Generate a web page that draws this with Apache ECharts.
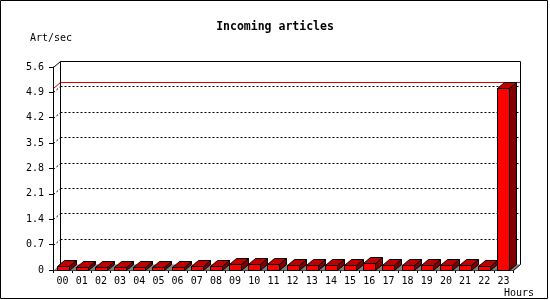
<!DOCTYPE html>
<html>
<head>
<meta charset="utf-8">
<script src="https://cdn.jsdelivr.net/npm/echarts@6/dist/echarts.min.js"></script>
<style>
html,body{margin:0;padding:0;background:#fff;}
#chart{width:550px;height:300px;}
</style>
</head>
<body>
<div id="chart"></div>
<script>
const hours = ['00','01','02','03','04','05','06','07','08','09','10','11','12','13','14','15','16','17','18','19','20','21','22','23'];
const articlesPerSec = [0.12,0.09,0.09,0.08,0.09,0.09,0.09,0.12,0.12,0.16,0.16,0.16,0.15,0.14,0.14,0.14,0.19,0.15,0.14,0.14,0.14,0.14,0.10,5.02];
const yTicks = [0,0.7,1.4,2.1,2.8,3.5,4.2,4.9,5.6];

const DX = 7, DY = -6;
const FONT = 'DejaVu Sans Mono';
const maxVal = Math.max.apply(null, articlesPerSec);

const chart = echarts.init(document.getElementById('chart'), null, {renderer:'canvas'});

function wallRender(params, api) {
  const cs = params.coordSys;
  const x0 = Math.round(cs.x) + 0.5, x1 = Math.round(cs.x + cs.width) + 0.5;
  const yb = Math.round(api.coord([0, 0])[1]) + 0.5;
  const yt = Math.round(api.coord([0, yTicks[yTicks.length - 1]])[1]) + 0.5;
  const ch = [];
  ch.push({type:'polygon', shape:{points:[[x0,yb],[x0+DX,yb+DY],[x1+DX,yb+DY],[x1,yb]]}, style:{fill:'#808080', stroke:null}});
  yTicks.forEach(function (v) {
    if (v === 0) return;
    const y = Math.round(api.coord([0, v])[1]) + 0.5;
    const solid = (v === yTicks[yTicks.length - 1]);
    const st = solid ? {stroke:'#000', lineWidth:1} : {stroke:'#000', lineWidth:1, lineDash:[2,2]};
    ch.push({type:'line', shape:{x1:x0+DX, y1:y+DY, x2:x1+DX, y2:y+DY}, style:st});
    ch.push({type:'line', shape:{x1:x0, y1:y, x2:x0+DX, y2:y+DY}, style:st});
  });
  const ym = Math.round(api.coord([0, maxVal])[1]) + 0.5;
  ch.push({type:'line', shape:{x1:x0+DX, y1:ym+DY, x2:x1+DX, y2:ym+DY}, style:{stroke:'#e00000', lineWidth:1}});
  ch.push({type:'line', shape:{x1:x0, y1:ym, x2:x0+DX, y2:ym+DY}, style:{stroke:'#e00000', lineWidth:1}});
  ch.push({type:'line', shape:{x1:x0+DX, y1:yt+DY, x2:x0+DX, y2:yb+DY}, style:{stroke:'#000', lineWidth:1}});
  ch.push({type:'line', shape:{x1:x1+DX, y1:yt+DY, x2:x1+DX, y2:yb+DY}, style:{stroke:'#000', lineWidth:1}});
  ch.push({type:'line', shape:{x1:x1, y1:yb, x2:x1+DX, y2:yb+DY}, style:{stroke:'#000', lineWidth:1}});
  return {type:'group', children:ch};
}

function barRender(params, api) {
  const idx = api.value(0), val = api.value(1);
  const p0 = api.coord([idx, 0]);
  const p1 = api.coord([idx, val]);
  const bw = Math.round(api.size([1, 0])[0] * 0.62);
  const xl = Math.round(p0[0] - bw / 2) + 0.5, xr = xl + bw;
  const yb = Math.round(p0[1]) + 0.5, yt = Math.round(p1[1]) + 0.5;
  const st = {stroke:'#000', lineWidth:1};
  return {type:'group', children:[
    {type:'polygon', shape:{points:[[xr,yt],[xr+DX,yt+DY],[xr+DX,yb+DY],[xr,yb]]}, style:Object.assign({fill:'#800000'}, st)},
    {type:'polygon', shape:{points:[[xl,yt],[xl+DX,yt+DY],[xr+DX,yt+DY],[xr,yt]]}, style:Object.assign({fill:'#c00000'}, st)},
    {type:'rect', shape:{x:xl, y:yt, width:bw, height:yb-yt}, style:Object.assign({fill:'#ff0000'}, st)}
  ]};
}

chart.setOption({
  animation:false,
  backgroundColor:'#fff',
  title:[
    {text:'Incoming articles', left:'center', top:21, padding:0, textStyle:{fontFamily:FONT, fontWeight:'bold', fontSize:11.5, color:'#000'}},
    {text:'Art/sec', left:30, top:33, padding:0, textStyle:{fontFamily:FONT, fontWeight:'normal', fontSize:10, color:'#000'}},
    {text:'Hours', left:504, top:288, padding:0, textStyle:{fontFamily:FONT, fontWeight:'normal', fontSize:10, color:'#000'}}
  ],
  graphic:[{type:'rect', shape:{x:0.5, y:0.5, width:547, height:298}, style:{fill:null, stroke:'#000', lineWidth:1}, silent:true}],
  grid:{left:53, top:67, width:460, height:203, containLabel:false},
  xAxis:{
    type:'category', data:hours, boundaryGap:true,
    axisLine:{lineStyle:{color:'#000', width:1}},
    axisTick:{show:true, interval:0, length:3, lineStyle:{color:'#000'}},
    axisLabel:{interval:0, margin:6, fontFamily:FONT, fontSize:10, color:'#000'},
    splitLine:{show:false}
  },
  yAxis:{
    type:'value', min:yTicks[0], max:yTicks[yTicks.length-1], interval:0.7,
    axisLine:{show:true, lineStyle:{color:'#000', width:1}},
    axisTick:{show:true, length:4, lineStyle:{color:'#000'}},
    axisLabel:{margin:9, fontFamily:FONT, fontSize:10, color:'#000', formatter:function(v){ return v === 0 ? '0' : v.toFixed(1); }},
    splitLine:{show:false}
  },
  series:[
    {type:'custom', name:'wall', renderItem:wallRender, data:[[0,0]], z:1, silent:true, clip:false},
    {type:'custom', name:'Incoming articles', renderItem:barRender, data:articlesPerSec.map(function(v,i){return [i,v];}), encode:{x:0,y:1}, z:3, clip:false}
  ]
});
</script>
</body>
</html>
